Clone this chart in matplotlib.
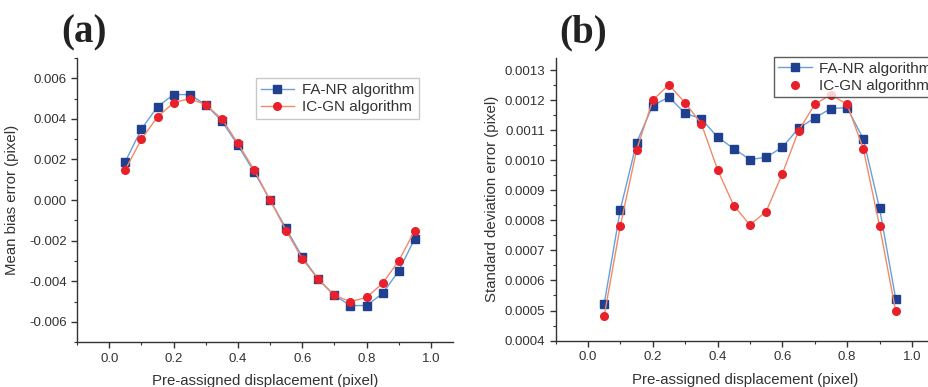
import numpy as np
import matplotlib
matplotlib.use("Agg")
import matplotlib.pyplot as plt
from matplotlib.ticker import MultipleLocator

# displacement values
disp = [0.05, 0.10, 0.15, 0.20, 0.25, 0.30, 0.35, 0.40, 0.45, 0.50,
        0.55, 0.60, 0.65, 0.70, 0.75, 0.80, 0.85, 0.90, 0.95]

# (a) mean bias error
bias_fanr = [0.0019, 0.0035, 0.0046, 0.0052, 0.0052, 0.0047, 0.0039, 0.0027, 0.0014, 0.0,
             -0.0014, -0.0028, -0.0039, -0.0047, -0.0052, -0.0052, -0.0046, -0.0035, -0.0019]
bias_icgn = [0.0015, 0.0030, 0.0041, 0.0048, 0.0050, 0.0047, 0.0040, 0.0028, 0.0015, 0.0,
             -0.0015, -0.0029, -0.0039, -0.0047, -0.0050, -0.0048, -0.0041, -0.0030, -0.0015]

# (b) standard deviation error
std_fanr = [0.000521, 0.000836, 0.001058, 0.001182, 0.001210, 0.001156, 0.001138, 0.001077,
            0.001039, 0.001002, 0.001010, 0.001043, 0.001106, 0.001141, 0.001172, 0.001175,
            0.001071, 0.000841, 0.000539]
std_icgn = [0.000481, 0.000782, 0.001033, 0.001200, 0.001251, 0.001191, 0.001122, 0.000969,
            0.000849, 0.000785, 0.000829, 0.000955, 0.001097, 0.001186, 0.001218, 0.001186,
            0.001038, 0.000782, 0.000498]

plt.rcParams['font.family'] = ['Liberation Sans', 'DejaVu Sans']
txt = '#333333'

fig = plt.figure(figsize=(9.29, 3.87), dpi=100)
ax1 = fig.add_axes([0.083, 0.116, 0.405, 0.734])
ax2 = fig.add_axes([0.598, 0.120, 0.408, 0.730])

blue_line = '#6a9fd8'
blue_mk = '#1f3f8f'
red_line = '#f08a6a'
red_mk = '#e8202a'


def style(ax):
    for s in ['top', 'right']:
        ax.spines[s].set_visible(False)
    for s in ['left', 'bottom']:
        ax.spines[s].set_color('#333333')
        ax.spines[s].set_linewidth(1.0)
    ax.tick_params(which='major', direction='out', length=4, width=1, colors='#333333',
                   labelsize=9.5, labelcolor=txt)
    ax.tick_params(which='minor', direction='out', length=2.5, width=0.8, colors='#333333')
    ax.xaxis.set_major_locator(MultipleLocator(0.2))
    ax.xaxis.set_minor_locator(MultipleLocator(0.1))
    ax.set_xlabel('Pre-assigned displacement (pixel)', fontsize=10.8, color=txt, labelpad=7)


ax1.plot(disp, bias_fanr, color=blue_line, lw=1, marker='s', ms=5.5,
         mfc=blue_mk, mec=blue_mk, label='FA-NR algorithm')
ax1.plot(disp, bias_icgn, color=red_line, lw=1, marker='o', ms=5.5,
         mfc=red_mk, mec=red_mk, label='IC-GN algorithm')
style(ax1)
ax1.set_xlim(-0.1, 1.07)
ax1.set_ylim(-0.007, 0.007)
ax1.yaxis.set_major_locator(MultipleLocator(0.002))
ax1.yaxis.set_minor_locator(MultipleLocator(0.001))
ax1.yaxis.set_major_formatter(plt.FormatStrFormatter('%.3f'))
ax1.set_ylabel('Mean bias error (pixel)', fontsize=10.8, color=txt, labelpad=7)
leg1 = ax1.legend(loc='upper left', bbox_to_anchor=(0.455, 0.955), fontsize=11,
                  frameon=True, fancybox=False, handlelength=2.2, borderpad=0.3,
                  labelspacing=0.2, handletextpad=0.5)
leg1.get_frame().set_edgecolor('#bbbbbb')
for t in leg1.get_texts():
    t.set_color(txt)

ax2.plot(disp, std_fanr, color=blue_line, lw=1, marker='s', ms=5.5,
         mfc=blue_mk, mec=blue_mk, label='FA-NR algorithm')
ax2.plot(disp, std_icgn, color=red_line, lw=1, marker='o', ms=5.5,
         mfc=red_mk, mec=red_mk)
ax2.plot([], [], ls='none', marker='o', ms=5.5, mfc=red_mk, mec=red_mk, label='IC-GN algorithm')
style(ax2)
ax2.set_xlim(-0.1, 1.07)
ax2.set_ylim(0.0004, 0.00134)
ax2.yaxis.set_major_locator(MultipleLocator(0.0001))
ax2.yaxis.set_minor_locator(MultipleLocator(0.00005))
ax2.yaxis.set_major_formatter(plt.FormatStrFormatter('%.4f'))
ax2.set_ylabel('Standard deviation error (pixel)', fontsize=10.8, color=txt)
h, l = ax2.get_legend_handles_labels()
leg2 = ax2.legend(h, l, loc='upper left', bbox_to_anchor=(0.555, 1.03), fontsize=11,
                  frameon=True, fancybox=False, handlelength=2.2, borderpad=0.3,
                  labelspacing=0.2, handletextpad=0.5)
leg2.get_frame().set_edgecolor('#333333')
for t in leg2.get_texts():
    t.set_color(txt)

fig.text(0.066, 0.915, '(a)', fontsize=28, fontweight='bold', family='Liberation Serif',
         va='center', color='#222222')
fig.text(0.602, 0.915, '(b)', fontsize=28, fontweight='bold', family='Liberation Serif',
         va='center', color='#222222')

fig.savefig('out.png', dpi=100)
